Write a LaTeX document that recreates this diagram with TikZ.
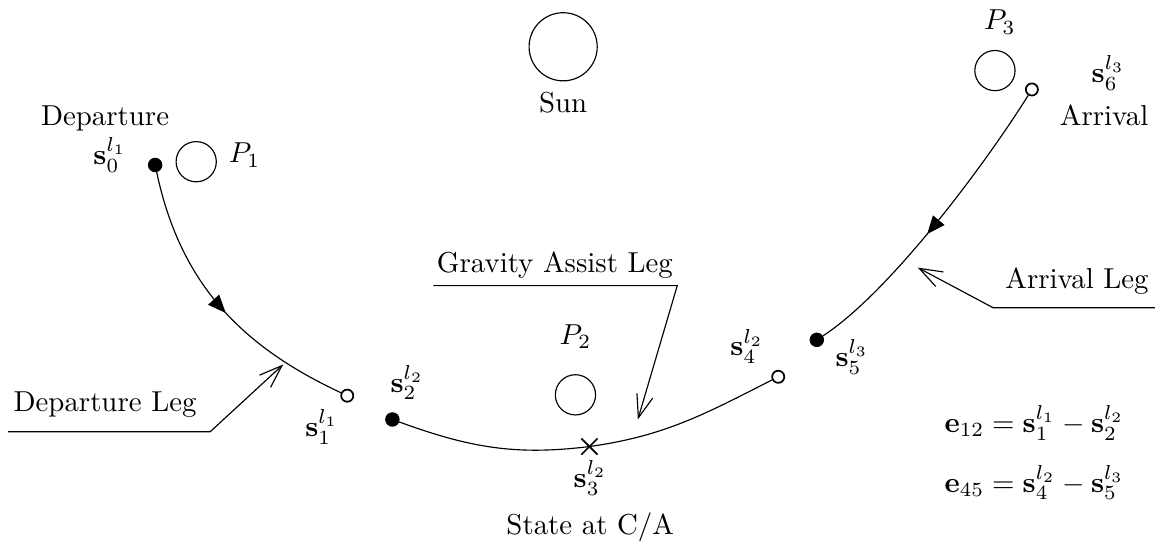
\documentclass[tikz,border=0pt]{standalone}
\usepackage{amsmath}
\usepackage{amssymb}
\usetikzlibrary{arrows.meta, positioning, decorations.markings, shapes.misc}

\begin{document}
\begin{tikzpicture}[
        planet/.style={circle, draw, minimum size=0.49cm, inner sep=0pt},
        fdot/.style={circle, draw, fill, minimum size=4.6pt, inner sep=0pt},
        odot/.style={circle, draw, fill=white, line width=0.6pt, minimum size=4.2pt, inner sep=0pt},
        leader/.style={-{Straight Barb[length=2.8mm, width=2mm]}},
        midarrow/.style={postaction={decorate}, decoration={markings,
            mark=at position #1 with {\arrow{Triangle[length=2.2mm, width=1.8mm]}}}}
    ]
        \useasboundingbox (0,0) rectangle (14.07,6.65);

        % planets
        \node[circle, draw, minimum size=0.83cm, inner sep=0pt] (Sun) at (6.86,6.08) {};
        \node at (6.86,5.40) {Sun};
        \node[planet] (P1) at (2.39,4.68) {};
        \node at (2.98,4.76) {$P_1$};
        \node[planet] (P2) at (7.01,1.84) {};
        \node at (7.01,2.55) {$P_2$};
        \node[planet] (P3) at (12.12,5.79) {};
        \node at (12.18,6.38) {$P_3$};

        % states
        \node[fdot] (s0) at (1.89,4.64) {};
        \node[odot] (s1) at (4.23,1.83) {};
        \node[fdot] (s2) at (4.78,1.54) {};
        \node[cross out, draw, line width=0.6pt, minimum size=5pt, inner sep=0pt] (s3) at (7.18,1.21) {};
        \node[odot] (s4) at (9.48,2.06) {};
        \node[fdot] (s5) at (9.95,2.51) {};
        \node[odot] (s6) at (12.57,5.56) {};

        \node at (1.28,5.21) {Departure};
        \node at (1.34,4.76) {$\mathbf{s}_0^{l_1}$};
        \node at (3.92,1.45) {$\mathbf{s}_1^{l_1}$};
        \node at (4.96,1.99) {$\mathbf{s}_2^{l_2}$};
        \node at (7.19,0.83) {$\mathbf{s}_3^{l_2}$};
        \node at (7.19,0.23) {State at C/A};
        \node at (9.10,2.43) {$\mathbf{s}_4^{l_2}$};
        \node at (10.38,2.30) {$\mathbf{s}_5^{l_3}$};
        \node at (13.50,5.76) {$\mathbf{s}_6^{l_3}$};
        \node at (13.45,5.24) {Arrival};

        % legs
        \draw[midarrow=0.53] (s0) to[out=-78, in=155] (s1);
        \draw (s2) to[out=-20, in=187] (s3.center) to[out=8, in=207] (s4);
        \draw[midarrow=0.54] (s6) to[out=-122, in=33, looseness=0.65] (s5);

        % leg labels
        \node at (1.28,1.72) {Departure Leg};
        \coordinate (dl0) at (0.10,1.39);
        \coordinate (dl1) at (2.56,1.39);
        \coordinate (dl2) at (3.45,2.21);
        \draw[leader] (dl0) -- (dl1) -- (dl2);

        \node at (6.76,3.42) {Gravity Assist Leg};
        \coordinate (ga0) at (5.28,3.17);
        \coordinate (ga1) at (8.25,3.17);
        \coordinate (ga2) at (7.77,1.54);
        \draw[leader] (ga0) -- (ga1) -- (ga2);

        \node at (13.12,3.22) {Arrival Leg};
        \coordinate (al0) at (14.07,2.90);
        \coordinate (al1) at (12.10,2.90);
        \coordinate (al2) at (11.18,3.39);
        \draw[leader] (al0) -- (al1) -- (al2);

        % errors
        \node at (12.60,1.50) {$\mathbf{e}_{12} = \mathbf{s}_1^{l_1} - \mathbf{s}_2^{l_2}$};
        \node at (12.60,0.77) {$\mathbf{e}_{45} = \mathbf{s}_4^{l_2} - \mathbf{s}_5^{l_3}$};
    \end{tikzpicture}
\end{document}
